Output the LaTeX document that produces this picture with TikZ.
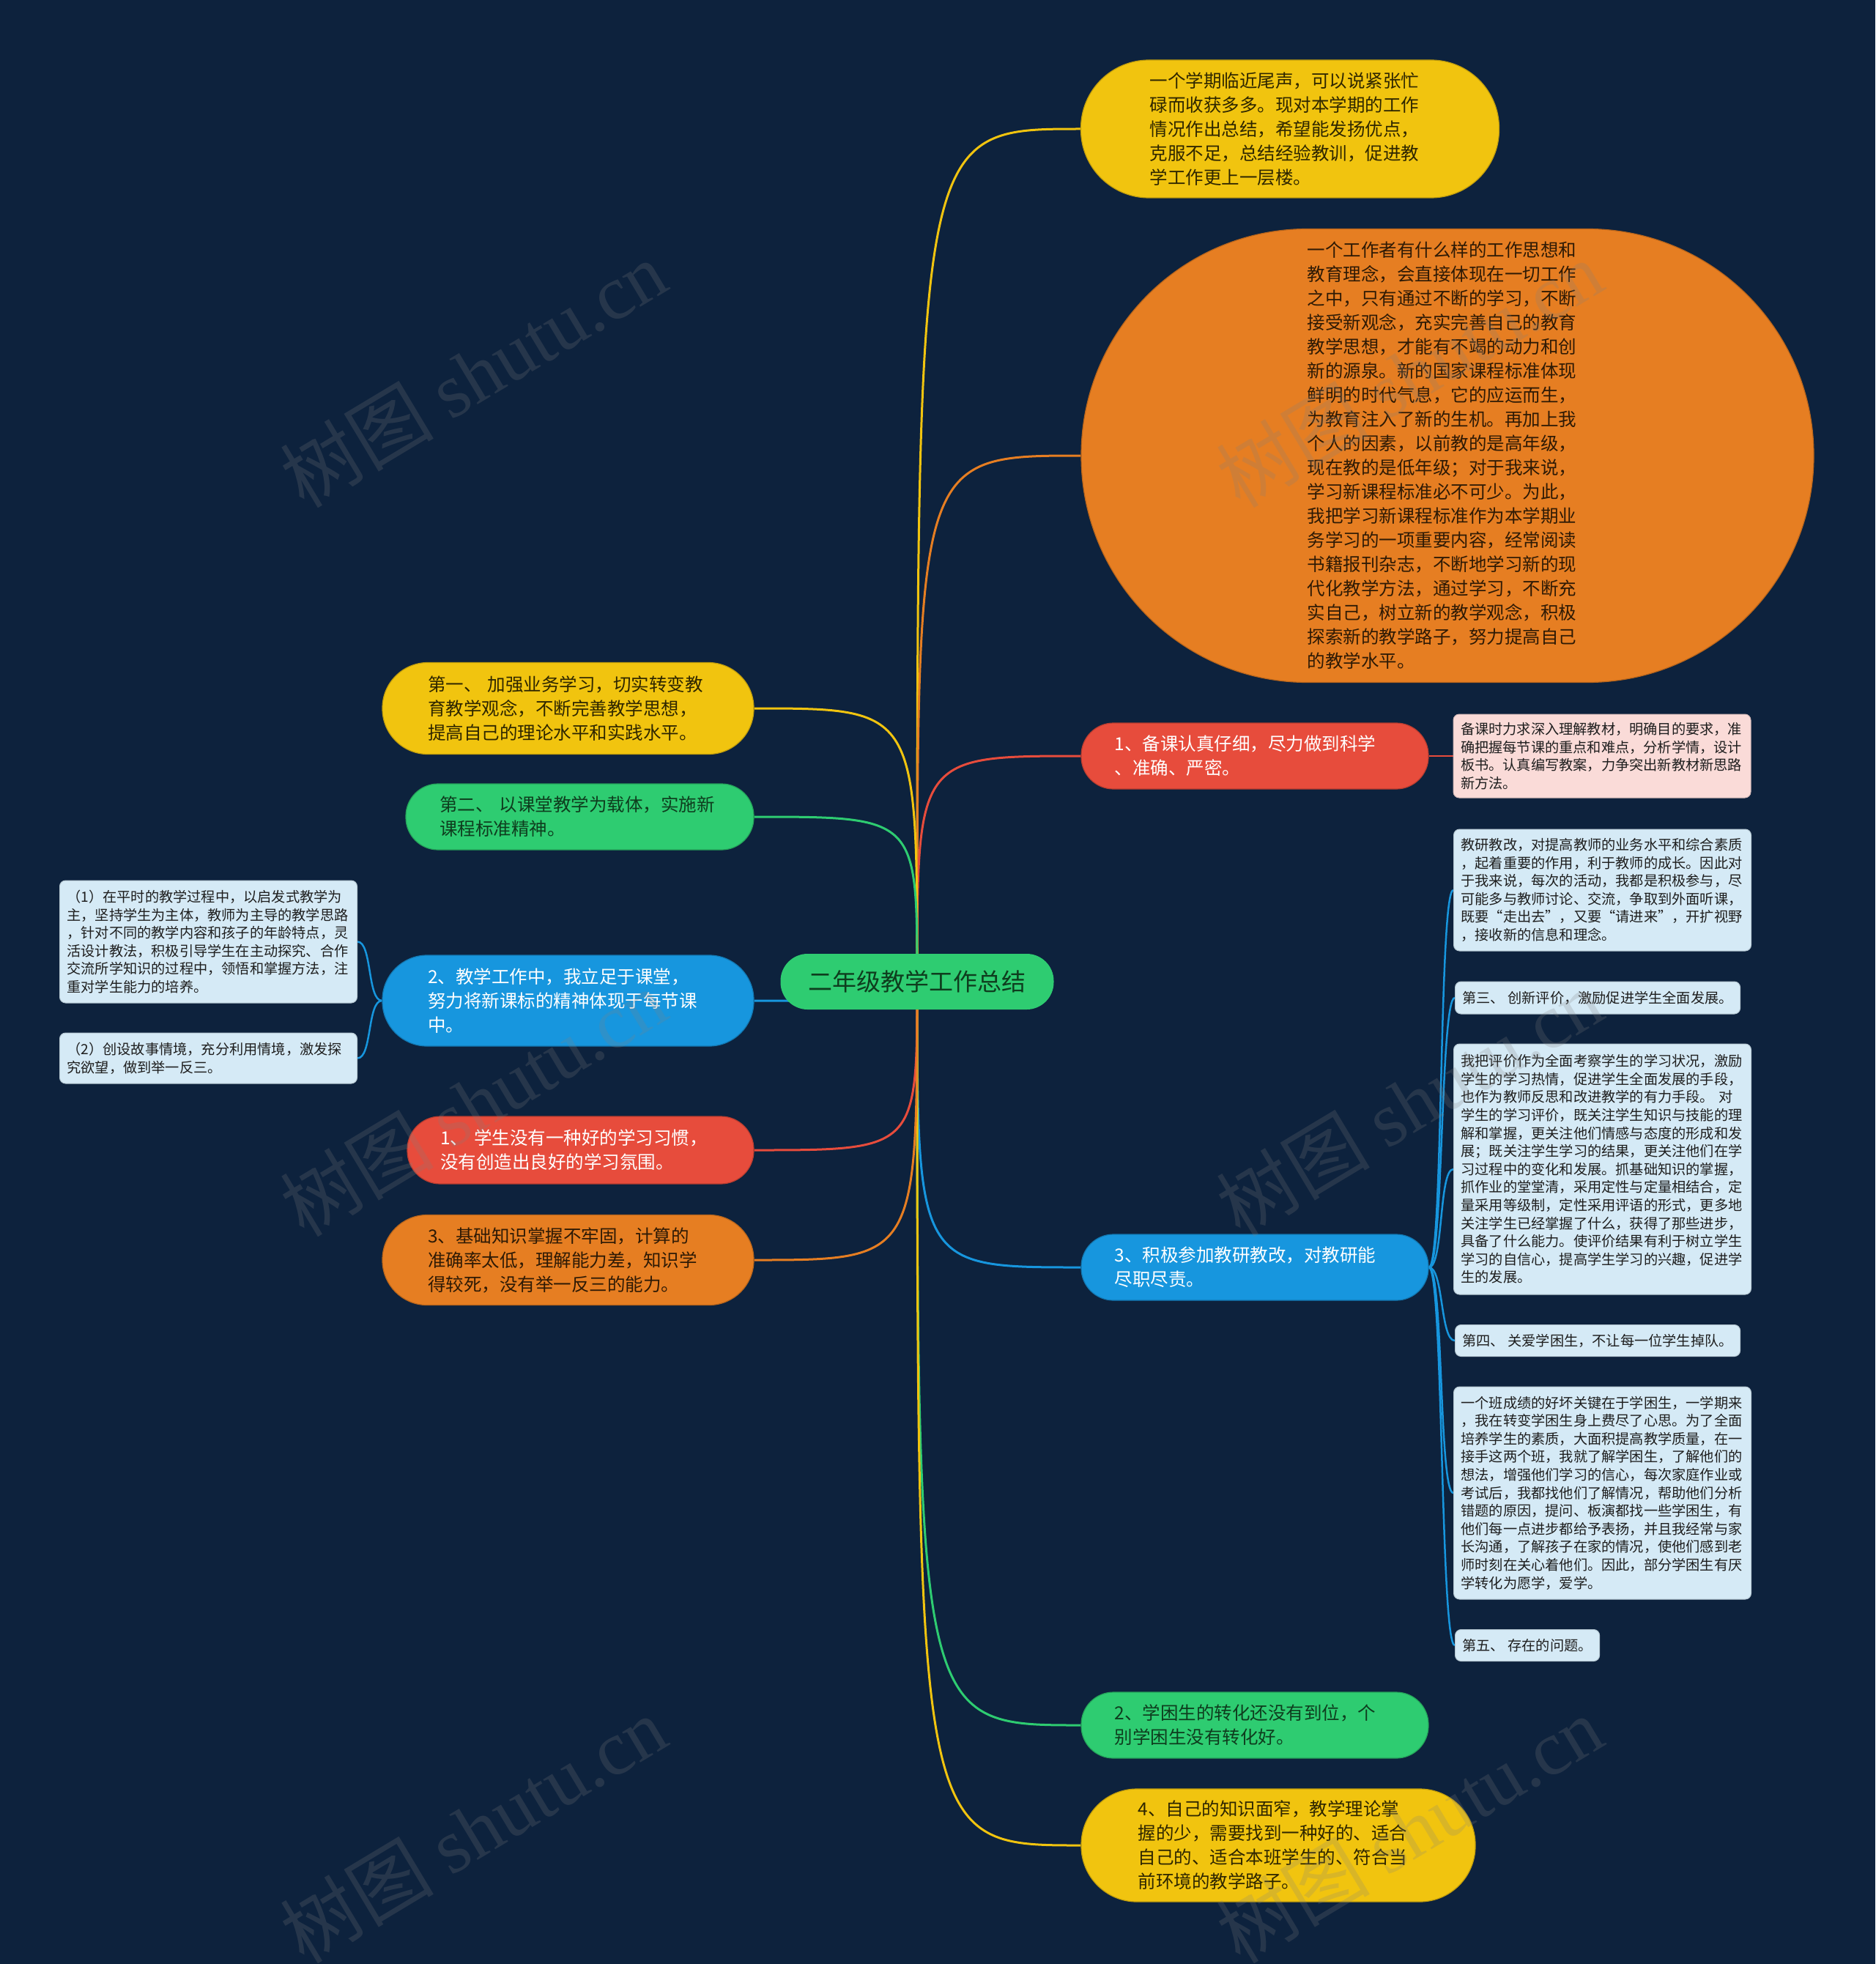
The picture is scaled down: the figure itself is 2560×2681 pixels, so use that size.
\documentclass[tikz,border=0pt]{standalone}
\usepackage{fontspec}
\setmainfont{Noto Sans CJK SC}
\newfontfamily\wmserif{Liberation Serif}
\pgfdeclarelayer{back}\pgfdeclarelayer{lines}\pgfdeclarelayer{front}
\pgfsetlayers{back,lines,main,front}
\definecolor{bg}{HTML}{0D223D}
\definecolor{yellowF}{HTML}{F1C40F}
\definecolor{orangeF}{HTML}{E67E22}
\definecolor{redF}{HTML}{E74C3C}
\definecolor{greenF}{HTML}{2ECC71}
\definecolor{blueF}{HTML}{1796DE}
\definecolor{yellowT}{HTML}{2E2600}
\definecolor{orangeT}{HTML}{2E1A05}
\definecolor{greenT}{HTML}{0E3D1E}
\definecolor{lbox}{HTML}{D5EAF6}
\definecolor{pbox}{HTML}{FADBD8}
\definecolor{smalltext}{HTML}{1E1E1E}
\begin{document}
\begin{tikzpicture}[x=1pt,y=-1pt,
  bignode/.style={text width=383pt, align=left, inner sep=0pt, line width=1.2pt,
    font=\fontsize{24.5}{33}\selectfont},
  ylw/.style={bignode, fill=yellowF, draw=yellowF!80!black, text=yellowT},
  org/.style={bignode, fill=orangeF, draw=orangeF!80!black, text=orangeT},
  rd/.style={bignode, fill=redF, draw=redF!80!black, text=white},
  grn/.style={bignode, fill=greenF, draw=greenF!80!black, text=greenT},
  blu/.style={bignode, fill=blueF, draw=blueF!80!black, text=white},
  smallbox/.style={fill=lbox, draw=lbox!85!black, line width=1pt, rounded corners=8pt,
    inner xsep=10pt, inner ysep=0pt, align=left, text=smalltext,
    font=\fontsize{19.2}{24.6}\selectfont},
  conn/.style={line width=3pt},
  subconn/.style={line width=2.5pt},
  wm/.style={rotate=31, text=gray, opacity=0.22, font=\fontsize{105}{105}\selectfont}
]
\begin{pgfonlayer}{back}
\fill[bg] (0,0) rectangle (2560,2681);
\end{pgfonlayer}
\useasboundingbox (0,0) rectangle (2560,2681);

% root
\node[fill=greenF, text=greenT, minimum width=373pt, minimum height=76pt, rounded corners=37pt,
  inner sep=0pt, font=\fontsize{33}{33}\selectfont] (root) at (1252,1340) {二年级教学工作总结};

% right side
\node[ylw, minimum width=571pt, minimum height=188pt, rounded corners=93pt] (A) at (1761,176)
{一个学期临近尾声，可以说紧张忙\\碌而收获多多。现对本学期的工作\\情况作出总结，希望能发扬优点，\\克服不足，总结经验教训，促进教\\学工作更上一层楼。};

\node[org, minimum width=1000pt, minimum height=619pt, rounded corners=309pt] (B) at (1976,622)
{一个工作者有什么样的工作思想和\\教育理念，会直接体现在一切工作\\之中，只有通过不断的学习，不断\\接受新观念，充实完善自己的教育\\教学思想，才能有不竭的动力和创\\新的源泉。新的国家课程标准体现\\鲜明的时代气息，它的应运而生，\\为教育注入了新的生机。再加上我\\个人的因素，以前教的是高年级，\\现在教的是低年级；对于我来说，\\学习新课程标准必不可少。为此，\\我把学习新课程标准作为本学期业\\务学习的一项重要内容，经常阅读\\书籍报刊杂志，不断地学习新的现\\代化教学方法，通过学习，不断充\\实自己，树立新的教学观念，积极\\探索新的教学路子，努力提高自己\\的教学水平。};

\node[rd, minimum width=474pt, minimum height=90pt, rounded corners=44pt] (C) at (1713,1032)
{1、备课认真仔细，尽力做到科学\\、准确、严密。};

\node[blu, minimum width=474pt, minimum height=90pt, rounded corners=44pt] (D) at (1713,1730)
{3、积极参加教研教改，对教研能\\尽职尽责。};

\node[grn, minimum width=474pt, minimum height=90pt, rounded corners=44pt] (E) at (1713,2355)
{2、学困生的转化还没有到位，个\\别学困生没有转化好。};

\node[ylw, minimum width=538pt, minimum height=154pt, rounded corners=76pt] (F) at (1745,2519)
{4、自己的知识面窄，教学理论掌\\握的少，需要找到一种好的、适合\\自己的、适合本班学生的、符合当\\前环境的教学路子。};

% left side
\node[ylw, minimum width=507pt, minimum height=125pt, rounded corners=62pt] (L1) at (775.5,967)
{第一、 加强业务学习，切实转变教\\育教学观念，不断完善教学思想，\\提高自己的理论水平和实践水平。};

\node[grn, minimum width=475pt, minimum height=90pt, rounded corners=44pt] (L2) at (791.5,1115)
{第二、 以课堂教学为载体，实施新\\课程标准精神。};

\node[blu, minimum width=507pt, minimum height=124pt, rounded corners=61pt] (L3) at (775.5,1366)
{2、教学工作中，我立足于课堂，\\努力将新课标的精神体现于每节课\\中。};

\node[rd, minimum width=473pt, minimum height=92pt, rounded corners=45pt] (L4) at (792.5,1570)
{1、 学生没有一种好的学习习惯，\\没有创造出良好的学习氛围。};

\node[org, minimum width=507pt, minimum height=123pt, rounded corners=61pt] (L5) at (775.5,1720)
{3、基础知识掌握不牢固，计算的\\准确率太低，理解能力差，知识学\\得较死，没有举一反三的能力。};

% small boxes
\node[smallbox, fill=pbox, draw=pbox!85!black, text width=386pt, minimum height=114pt] (C1) at (2187,1032)
{备课时力求深入理解教材，明确目的要求，准\\确把握每节课的重点和难点，分析学情，设计\\板书。认真编写教案，力争突出新教材新思路\\新方法。};

\node[smallbox, text width=386pt, minimum height=166pt] (D1) at (2187.5,1215)
{教研教改，对提高教师的业务水平和综合素质\\，起着重要的作用，利于教师的成长。因此对\\于我来说，每次的活动，我都是积极参与，尽\\可能多与教师讨论、交流，争取到外面听课，\\既要“走出去”，又要“请进来”，开扩视野\\，接收新的信息和理念。};

\node[smallbox, anchor=west, minimum height=44pt] (D2) at (1986,1362)
{第三、 创新评价，激励促进学生全面发展。};

\node[smallbox, text width=386pt, minimum height=342pt] (D3) at (2187.5,1596)
{我把评价作为全面考察学生的学习状况，激励\\学生的学习热情，促进学生全面发展的手段，\\也作为教师反思和改进教学的有力手段。 对\\学生的学习评价，既关注学生知识与技能的理\\解和掌握，更关注他们情感与态度的形成和发\\展；既关注学生学习的结果，更关注他们在学\\习过程中的变化和发展。抓基础知识的掌握，\\抓作业的堂堂清，采用定性与定量相结合，定\\量采用等级制，定性采用评语的形式，更多地\\关注学生已经掌握了什么，获得了那些进步，\\具备了什么能力。使评价结果有利于树立学生\\学习的自信心，提高学生学习的兴趣，促进学\\生的发展。};

\node[smallbox, anchor=west, minimum height=43pt] (D4) at (1986,1830)
{第四、 关爱学困生，不让每一位学生掉队。};

\node[smallbox, text width=386pt, minimum height=290pt] (D5) at (2187.5,2038)
{一个班成绩的好坏关键在于学困生，一学期来\\，我在转变学困生身上费尽了心思。为了全面\\培养学生的素质，大面积提高教学质量，在一\\接手这两个班，我就了解学困生，了解他们的\\想法，增强他们学习的信心，每次家庭作业或\\考试后，我都找他们了解情况，帮助他们分析\\错题的原因，提问、板演都找一些学困生，有\\他们每一点进步都给予表扬，并且我经常与家\\长沟通，了解孩子在家的情况，使他们感到老\\师时刻在关心着他们。因此，部分学困生有厌\\学转化为愿学，爱学。};

\node[smallbox, anchor=west, minimum height=43pt] (D6) at (1986,2246)
{第五、 存在的问题。};

\node[smallbox, text width=386pt, minimum height=167pt] (K1) at (284.5,1285.5)
{（1）在平时的教学过程中，以启发式教学为\\主，坚持学生为主体，教师为主导的教学思路\\，针对不同的教学内容和孩子的年龄特点，灵\\活设计教法，积极引导学生在主动探究、合作\\交流所学知识的过程中，领悟和掌握方法，注\\重对学生能力的培养。};

\node[smallbox, text width=386pt, minimum height=69pt] (K2) at (284.5,1444.5)
{（2）创设故事情境，充分利用情境，激发探\\究欲望，做到举一反三。};

% connectors
\begin{pgfonlayer}{lines}
\draw[conn, yellowF] (root.center) .. controls (root.center |- A.west) .. (A.west);
\draw[conn, orangeF] (root.center) .. controls (root.center |- B.west) .. (B.west);
\draw[conn, redF] (root.center) .. controls (root.center |- C.west) .. (C.west);
\draw[conn, blueF] (root.center) .. controls (root.center |- D.west) .. (D.west);
\draw[conn, greenF] (root.center) .. controls (root.center |- E.west) .. (E.west);
\draw[conn, yellowF] (root.center) .. controls (root.center |- F.west) .. (F.west);
\draw[conn, yellowF] (root.center) .. controls (root.center |- L1.east) .. (L1.east);
\draw[conn, greenF] (root.center) .. controls (root.center |- L2.east) .. (L2.east);
\draw[conn, blueF] (root.center) .. controls (root.center |- L3.east) .. (L3.east);
\draw[conn, redF] (root.center) .. controls (root.center |- L4.east) .. (L4.east);
\draw[conn, orangeF] (root.center) .. controls (root.center |- L5.east) .. (L5.east);
\draw[subconn, redF] (C.east) -- (C1.west);
\foreach \k in {D1,D2,D3,D4,D5,D6}
  \draw[subconn, blueF] (D.east) .. controls +(20,0) and +(-20,0) .. (\k.west);
\foreach \k in {K1,K2}
  \draw[subconn, blueF] (L3.west) .. controls +(-20,0) and +(20,0) .. (\k.east);
\end{pgfonlayer}

% watermarks
\begin{pgfonlayer}{front}
\foreach \x/\y [count=\i] in {646/510, 1924/510, 646/1505, 1924/1505, 646/2497, 1924/2497}
  \node[wm] (wm\i) at (\x,\y) {树图 {\wmserif shutu.cn}};
\end{pgfonlayer}
\end{tikzpicture}
\end{document}
